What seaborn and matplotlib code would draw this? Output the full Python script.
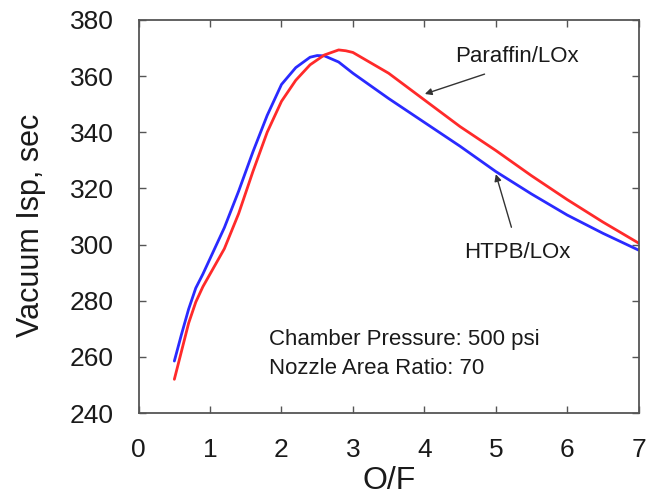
import pandas as pd
import seaborn as sns
import matplotlib
matplotlib.use("Agg")
import matplotlib.pyplot as plt

# O/F ratio vs vacuum Isp
of_htpb = [0.5, 0.6, 0.7, 0.8, 0.9, 1.0, 1.2, 1.4, 1.6, 1.8, 2.0, 2.2, 2.4, 2.5,
           2.6, 2.8, 3.0, 3.5, 4.0, 4.5, 5.0, 5.5, 6.0, 6.5, 7.0]
isp_htpb = [258.5, 268, 277, 284.5, 289.5, 295, 306, 319, 333, 346, 357, 363, 366.7, 367.3,
            367.2, 365, 361, 352, 343.5, 335, 326, 318, 310.5, 304, 298]

of_paraffin = [0.5, 0.6, 0.7, 0.8, 0.9, 1.0, 1.2, 1.4, 1.6, 1.8, 2.0, 2.2, 2.4, 2.6,
               2.8, 2.9, 3.0, 3.5, 4.0, 4.5, 5.0, 5.5, 6.0, 6.5, 7.0]
isp_paraffin = [252, 262, 272, 279.5, 285, 289.5, 298.5, 311, 326, 340, 351, 358.5, 364, 367.5,
                369.3, 369, 368.4, 361, 351.5, 342, 333.5, 324.5, 316, 308, 300.5]

x_ticks = [0, 1, 2, 3, 4, 5, 6, 7]
y_ticks = [240, 260, 280, 300, 320, 340, 360, 380]

df_htpb = pd.DataFrame({"of": of_htpb, "isp": isp_htpb})
df_par = pd.DataFrame({"of": of_paraffin, "isp": isp_paraffin})

sns.set_style("ticks")
plt.rcParams["font.family"] = ["Liberation Sans", "DejaVu Sans"]

fig = plt.figure(figsize=(6.46, 4.97), dpi=100)
ax = fig.add_axes([0.2146, 0.169, 0.774, 0.791])

sns.lineplot(data=df_htpb, x="of", y="isp", color="#2a2aff", linewidth=2, ax=ax)
sns.lineplot(data=df_par, x="of", y="isp", color="#ff2a2a", linewidth=2, ax=ax)

ax.set_xlim(0, 7)
ax.set_ylim(240, 380)
ax.set_xticks(x_ticks)
ax.set_yticks(y_ticks)
ax.tick_params(direction="in", length=5, width=1, color="#555555",
               top=True, right=True, labelsize=19, labelcolor="#1a1a1a", pad=18)
for s in ax.spines.values():
    s.set_color("#555555")
    s.set_linewidth(1.3)

ax.set_xlabel("O/F", fontsize=23, color="#1a1a1a", labelpad=3)
ax.set_ylabel("Vacuum Isp, sec", fontsize=22, color="#1a1a1a")
ax.yaxis.set_label_coords(-0.185, 0.478)

arrow = dict(arrowstyle="-|>", color="#333333", lw=1, mutation_scale=10)
ax.text(5.3, 367, "Paraffin/LOx", fontsize=16, color="#1a1a1a", ha="center", va="center")
ax.annotate("", xy=(3.97, 353.3), xytext=(4.88, 361.0), arrowprops=arrow)
ax.text(5.3, 297, "HTPB/LOx", fontsize=16, color="#1a1a1a", ha="center", va="center")
ax.annotate("", xy=(4.99, 326.0), xytext=(5.23, 305.2), arrowprops=arrow)

ax.text(1.82, 266, "Chamber Pressure: 500 psi", fontsize=16, color="#1a1a1a", va="center")
ax.text(1.82, 256, "Nozzle Area Ratio: 70", fontsize=16, color="#1a1a1a", va="center")

fig.savefig("out.png", dpi=100, facecolor="white")
